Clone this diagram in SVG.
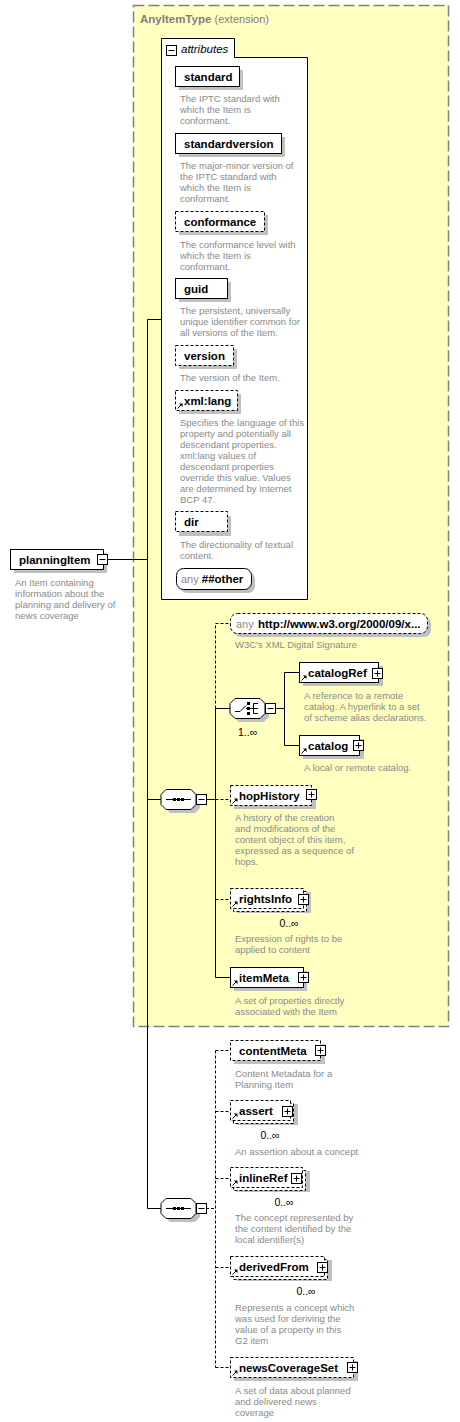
<svg xmlns="http://www.w3.org/2000/svg" xmlns:xlink="http://www.w3.org/1999/xlink" width="460" height="1422" viewBox="0 0 460 1422">
<style>
.name{font-family:"Liberation Sans",Arial,sans-serif;font-size:11.5px;font-weight:bold;fill:#000}
.desc{font-family:"Liberation Sans",Arial,sans-serif;font-size:9.5px;fill:#8a8a8a}
.gray{font-family:"Liberation Sans",Arial,sans-serif;font-size:11px;fill:#8a8a8a}
.mult{font-family:"Liberation Sans",Arial,sans-serif;font-size:10.5px;fill:#000}
.box{fill:#fff;stroke:#000;stroke-width:1}
.dbox{fill:#fff;stroke:#000;stroke-width:1;stroke-dasharray:3,2}
.sh{fill:#c0c0c0}
.ln{fill:none;stroke:#000;stroke-width:1}
.dln{fill:none;stroke:#000;stroke-width:1;stroke-dasharray:3,2}
</style>
<defs>
<g id="plus"><rect x="0.5" y="0.5" width="10" height="10" fill="#fff" stroke="#000"/><path d="M1.5 10.5H10.5V1.5" fill="none" stroke="#000"/><path d="M2.5 5.5h6M5.5 2.5v6" stroke="#000"/></g>
<g id="minus"><rect x="0.5" y="0.5" width="10" height="10" fill="#fff" stroke="#000"/><path d="M1.5 10.5H10.5V1.5" fill="none" stroke="#000"/><path d="M2.5 5.5h6" stroke="#000"/></g>
<g id="ref"><path d="M0.5 5.5L4 2" stroke="#000" stroke-width="1"/><path d="M2 0.5H5.5V4Z" fill="#000"/></g>
<g id="seqicon"><path d="M5 10.5H30" stroke="#000"/><rect x="12" y="9" width="3" height="3" fill="#000"/><rect x="16" y="9" width="3" height="3" fill="#000"/><rect x="20" y="9" width="3" height="3" fill="#000"/></g>
</defs>

<!-- extension area -->
<g id="anyItemType">
<rect x="133.5" y="5.5" width="315" height="1021" fill="#ffffc0" stroke="#808080" stroke-width="1.5" stroke-dasharray="11,4"/>
<text x="140" y="23" class="name" style="fill:#808080">AnyItemType <tspan style="font-weight:normal;font-size:11px">(extension)</tspan></text>
</g>

<!-- connectors -->
<g id="connectors">
<path class="ln" d="M108 559.5H147.5M147.5 319.5V1208.5M147.5 319.5H161M147.5 799.5H161M147.5 1208.5H161"/>
<path class="ln" d="M206 799.5H215.5"/>
<path class="dln" d="M215.5 708.5V623.5H230"/>
<path class="ln" d="M215.5 708.5V977.5H230M215.5 708.5H230"/>
<path class="dln" d="M215.5 799.5H230M215.5 899.5H230"/>
<path class="ln" d="M275 708.5H284.5M284.5 672.5V745.5M284.5 672.5H299M284.5 745.5H299"/>
<path class="dln" d="M206 1208.5H215.5M215.5 1050.5V1367.5M215.5 1050.5H230M215.5 1111.5H230M215.5 1178.5H230M215.5 1267.5H230M215.5 1367.5H230"/>
</g>

<!-- attributes -->
<g id="attributes">
<path d="M161.5 599.5V38.5H234.5V57.5H307.5V599.5Z" fill="#fff" stroke="#000"/>
<use xlink:href="#minus" x="166" y="45"/>
<text x="181" y="53" class="name" style="font-weight:normal;font-style:italic">attributes</text>
</g>

<g id="standard">
<rect class="sh" x="179" y="70" width="64" height="20"/>
<rect class="box" x="175.5" y="66.5" width="64" height="20"/>
<text x="184" y="81" class="name">standard</text>
<text x="180" y="102" class="desc">The IPTC standard with<tspan x="180" dy="11">which the Item is</tspan><tspan x="180" dy="11">conformant.</tspan></text>
</g>

<g id="standardversion">
<rect class="sh" x="179" y="137" width="106" height="20"/>
<rect class="box" x="175.5" y="133.5" width="106" height="20"/>
<text x="184" y="148" class="name">standardversion</text>
<text x="180" y="169" class="desc">The major-minor version of<tspan x="180" dy="11">the IPTC standard with</tspan><tspan x="180" dy="11">which the Item is</tspan><tspan x="180" dy="11">conformant.</tspan></text>
</g>

<g id="conformance">
<rect class="sh" x="179" y="215" width="89" height="20"/>
<rect class="dbox" x="175.5" y="211.5" width="89" height="20"/>
<text x="184" y="226" class="name">conformance</text>
<text x="180" y="248" class="desc">The conformance level with<tspan x="180" dy="11">which the Item is</tspan><tspan x="180" dy="11">conformant.</tspan></text>
</g>

<g id="guid">
<rect class="sh" x="179" y="282" width="52" height="20"/>
<rect class="box" x="175.5" y="278.5" width="52" height="20"/>
<text x="184" y="293" class="name">guid</text>
<text x="180" y="314" class="desc">The persistent, universally<tspan x="180" dy="11">unique identifier common for</tspan><tspan x="180" dy="11">all versions of the Item.</tspan></text>
</g>

<g id="version">
<rect class="sh" x="179" y="349" width="58" height="20"/>
<rect class="dbox" x="175.5" y="345.5" width="58" height="20"/>
<text x="184" y="360" class="name">version</text>
<text x="180" y="381" class="desc">The version of the Item.</text>
</g>

<g id="xmllang">
<rect class="sh" x="179" y="394" width="62" height="20"/>
<rect class="dbox" x="175.5" y="390.5" width="62" height="20"/>
<use xlink:href="#ref" x="177" y="403"/>
<text x="184" y="405" class="name">xml:lang</text>
<text x="180" y="426" class="desc">Specifies the language of this<tspan x="180" dy="11">property and potentially all</tspan><tspan x="180" dy="11">descendant properties.</tspan><tspan x="180" dy="11">xml:lang values of</tspan><tspan x="180" dy="11">descendant properties</tspan><tspan x="180" dy="11">override this value. Values</tspan><tspan x="180" dy="11">are determined by Internet</tspan><tspan x="180" dy="11">BCP 47.</tspan></text>
</g>

<g id="dir">
<rect class="sh" x="179" y="516" width="52" height="20"/>
<rect class="dbox" x="175.5" y="511.5" width="52" height="20"/>
<text x="184" y="526" class="name">dir</text>
<text x="180" y="548" class="desc">The directionality of textual<tspan x="180" dy="11">content.</tspan></text>
</g>

<g id="anyOther">
<rect class="sh" x="180" y="572" width="75" height="21" rx="7"/>
<rect class="box" x="176.5" y="568.5" width="75" height="21" rx="7"/>
<text x="181" y="583" class="gray">any <tspan class="name">##other</tspan></text>
</g>

<!-- planningItem -->
<g id="planningItem">
<rect class="sh" x="14" y="553" width="93" height="20"/>
<rect class="box" x="10.5" y="549.5" width="93" height="20"/>
<text x="19" y="564" class="name">planningItem</text>
<use xlink:href="#minus" x="97" y="554"/>
<text x="15" y="586" class="desc">An Item containing<tspan x="15" dy="11">information about the</tspan><tspan x="15" dy="11">planning and delivery of</tspan><tspan x="15" dy="11">news coverage</tspan></text>
</g>

<!-- sequence 1 -->
<g id="sequence1">
<path class="sh" d="M170 793H195L200 798V808L195 813H170L165 808V798Z"/>
<path d="M166 789.5H191L196 794.5V804.5L191 809.5H166L161 804.5V794.5Z" fill="#fff" stroke="#000"/>
<use xlink:href="#seqicon" x="161" y="789"/>
<use xlink:href="#minus" x="196" y="794"/>
</g>

<g id="anySignature">
<rect class="sh" x="234" y="617" width="197" height="20" rx="7"/>
<rect class="dbox" x="230.5" y="613.5" width="197" height="20" rx="7"/>
<text x="236" y="628" class="gray">any <tspan x="258" class="name">http://www.w3.org/2000/09/x...</tspan></text>
<text x="235" y="648" class="desc">W3C's XML Digital Signature</text>
</g>

<g id="choice">
<path class="sh" d="M239 702H264L269 707V717L264 722H239L234 717V707Z"/>
<path d="M235 698.5H260L265 703.5V713.5L260 718.5H235L230 713.5V703.5Z" fill="#fff" stroke="#000"/>
<path d="M235 711.5H240L246 705.5M246 708.5H258M253.5 703.5V713.5H258M253.5 703.5H258" fill="none" stroke="#000"/>
<rect x="247" y="702" width="3" height="3" fill="#000"/><rect x="247" y="707" width="3" height="3" fill="#000"/><rect x="247" y="712" width="3" height="3" fill="#000"/>
<use xlink:href="#minus" x="265" y="703"/>
<text x="238" y="736" class="mult">1..∞</text>
</g>

<g id="catalogRef">
<rect class="sh" x="303" y="666" width="80" height="20"/>
<rect class="box" x="299.5" y="662.5" width="79" height="20"/>
<use xlink:href="#ref" x="301" y="675"/>
<text x="308" y="677" class="name">catalogRef</text>
<use xlink:href="#plus" x="372" y="668"/>
<text x="304" y="699" class="desc">A reference to a remote<tspan x="304" dy="11">catalog. A hyperlink to a set</tspan><tspan x="304" dy="11">of scheme alias declarations.</tspan></text>
</g>

<g id="catalog">
<rect class="sh" x="303" y="739" width="61" height="20"/>
<rect class="box" x="299.5" y="735.5" width="60" height="20"/>
<use xlink:href="#ref" x="301" y="748"/>
<text x="308" y="750" class="name">catalog</text>
<use xlink:href="#plus" x="353" y="740"/>
<text x="304" y="771" class="desc">A local or remote catalog.</text>
</g>

<g id="hopHistory">
<rect class="sh" x="234" y="789" width="82" height="20"/>
<rect class="dbox" x="230.5" y="785.5" width="81" height="20"/>
<use xlink:href="#ref" x="232" y="798"/>
<text x="239" y="800" class="name">hopHistory</text>
<use xlink:href="#plus" x="306" y="789"/>
<text x="235" y="821" class="desc"> A history of the creation<tspan x="235" dy="11">and modifications of the</tspan><tspan x="235" dy="11">content object of this item,</tspan><tspan x="235" dy="11">expressed as a sequence of</tspan><tspan x="235" dy="11">hops.</tspan></text>
</g>

<g id="rightsInfo">
<rect class="sh" x="237" y="892" width="74" height="21"/>
<rect class="dbox" x="233.5" y="891.5" width="73" height="20"/>
<rect class="dbox" x="230.5" y="888.5" width="73" height="20"/>
<use xlink:href="#ref" x="232" y="901"/>
<text x="239" y="903" class="name">rightsInfo</text>
<use xlink:href="#plus" x="298" y="894"/>
<text x="289" y="927" class="mult" text-anchor="middle">0..∞</text>
<text x="235" y="942" class="desc">Expression of rights to be<tspan x="235" dy="11">applied to content</tspan></text>
</g>

<g id="itemMeta">
<rect class="sh" x="234" y="971" width="73" height="20"/>
<rect class="box" x="230.5" y="967.5" width="73" height="20"/>
<use xlink:href="#ref" x="232" y="980"/>
<text x="239" y="982" class="name">itemMeta</text>
<use xlink:href="#plus" x="298" y="972"/>
<text x="235" y="1004" class="desc">A set of properties directly<tspan x="235" dy="11">associated with the Item</tspan></text>
</g>

<!-- sequence 2 -->
<g id="sequence2">
<path class="sh" d="M170 1202H195L200 1207V1217L195 1222H170L165 1217V1207Z"/>
<path d="M166 1198.5H191L196 1203.5V1213.5L191 1218.5H166L161 1213.5V1203.5Z" fill="#fff" stroke="#000"/>
<use xlink:href="#seqicon" x="161" y="1198"/>
<use xlink:href="#minus" x="196" y="1203"/>
</g>

<g id="contentMeta">
<rect class="sh" x="234" y="1044" width="91" height="20"/>
<rect class="dbox" x="230.5" y="1040.5" width="90" height="20"/>
<text x="239" y="1055" class="name">contentMeta</text>
<use xlink:href="#plus" x="315" y="1045"/>
<text x="235" y="1077" class="desc">Content Metadata for a<tspan x="235" dy="11">Planning Item</tspan></text>
</g>

<g id="assert">
<rect class="sh" x="237" y="1104" width="61" height="21"/>
<rect class="dbox" x="233.5" y="1103.5" width="60" height="20"/>
<rect class="dbox" x="230.5" y="1100.5" width="60" height="20"/>
<use xlink:href="#ref" x="232" y="1113"/>
<text x="239" y="1115" class="name">assert</text>
<use xlink:href="#plus" x="282" y="1106"/>
<text x="270" y="1139" class="mult" text-anchor="middle">0..∞</text>
<text x="235" y="1155" class="desc">An assertion about a concept</text>
</g>

<g id="inlineRef">
<rect class="sh" x="237" y="1171" width="73" height="21"/>
<rect class="dbox" x="233.5" y="1170.5" width="72" height="20"/>
<rect class="dbox" x="230.5" y="1167.5" width="72" height="20"/>
<use xlink:href="#ref" x="232" y="1180"/>
<text x="239" y="1182" class="name">inlineRef</text>
<use xlink:href="#plus" x="291" y="1173"/>
<text x="284" y="1206" class="mult" text-anchor="middle">0..∞</text>
<text x="235" y="1221" class="desc">The concept represented by<tspan x="235" dy="11">the content identified by the</tspan><tspan x="235" dy="11">local identifier(s)</tspan></text>
</g>

<g id="derivedFrom">
<rect class="sh" x="237" y="1260" width="95" height="21"/>
<rect class="dbox" x="233.5" y="1259.5" width="94" height="20"/>
<rect class="dbox" x="230.5" y="1256.5" width="94" height="20"/>
<use xlink:href="#ref" x="232" y="1269"/>
<text x="239" y="1271" class="name">derivedFrom</text>
<use xlink:href="#plus" x="317" y="1262"/>
<text x="306" y="1295" class="mult" text-anchor="middle">0..∞</text>
<text x="235" y="1311" class="desc">Represents a concept which<tspan x="235" dy="11">was used for deriving the</tspan><tspan x="235" dy="11">value of a property in this</tspan><tspan x="235" dy="11">G2 item</tspan></text>
</g>

<g id="newsCoverageSet">
<rect class="sh" x="234" y="1361" width="124" height="20"/>
<rect class="dbox" x="230.5" y="1357.5" width="123" height="20"/>
<use xlink:href="#ref" x="232" y="1370"/>
<text x="239" y="1372" class="name">newsCoverageSet</text>
<use xlink:href="#plus" x="347" y="1362"/>
<text x="235" y="1394" class="desc">A set of data about planned<tspan x="235" dy="11">and delivered news</tspan><tspan x="235" dy="11">coverage</tspan></text>
</g>
</svg>
